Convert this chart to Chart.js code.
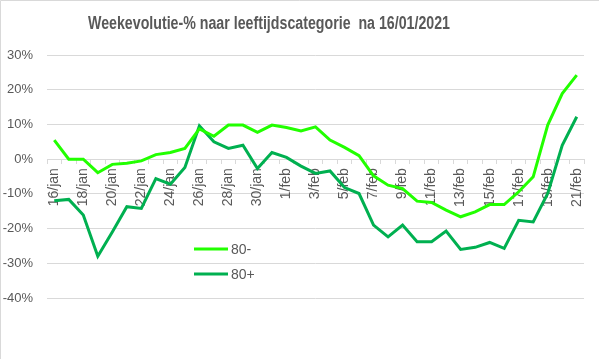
<!DOCTYPE html>
<html>
<head>
<meta charset="utf-8">
<script src="https://cdn.jsdelivr.net/npm/chart.js@4.4.1/dist/chart.umd.min.js"></script>
<style>
html,body{margin:0;padding:0;background:#fff;}
#wrap{width:599px;height:359px;position:relative;}
</style>
</head>
<body>
<div id="wrap"><canvas id="c" width="599" height="359"></canvas></div>
<script>
const titleText = 'Weekevolutie-% naar leeftijdscategorie  na 16/01/2021';
const categories = ['16/jan','17/jan','18/jan','19/jan','20/jan','21/jan','22/jan','23/jan','24/jan','25/jan','26/jan','27/jan','28/jan','29/jan','30/jan','31/jan',
  '1/feb','2/feb','3/feb','4/feb','5/feb','6/feb','7/feb','8/feb','9/feb','10/feb','11/feb','12/feb','13/feb','14/feb','15/feb','16/feb','17/feb','18/feb','19/feb','20/feb','21/feb'];
const seriesNames = ['80-','80+'];
const under80 = [5.5, 0, 0, -3.9, -1.5, -1.2, -0.5, 1.3, 1.9, 3.1, 8.7, 6.6, 9.8, 9.8, 7.7, 9.8,
  9.1, 8.1, 9.3, 5.5, 3.4, 1.0, -4.8, -7.5, -8.5, -12.1, -12.5, -14.7, -16.6, -15.2, -13.1, -13.1, -9.4, -5.1, 9.8, 18.9, 24.2];
const over80 = [-12, -11.6, -16.1, -28, -21, -13.7, -14.2, -5.6, -7.2, -2.4, 9.6, 5, 3.1, 4, -2.7, 1.9,
  0.5, -2, -4.1, -3.4, -8.2, -9.9, -19, -22.4, -19, -23.8, -23.8, -20.7, -26, -25.4, -24, -25.7, -17.6, -18.1, -9.9, 4, 12.2];
const yTicks = [30, 20, 10, 0, -10, -20, -30, -40];

const grey = '#595959';
const gridCol = '#d9d9d9';

const decor = {
  id: 'decor',
  beforeDraw(chart) {
    const ctx = chart.ctx;
    ctx.save();
    ctx.fillStyle = '#fff';
    ctx.fillRect(0, 0, chart.width, chart.height);
    ctx.strokeStyle = gridCol;
    ctx.lineWidth = 1;
    ctx.beginPath();
    ctx.moveTo(0.5, chart.height); ctx.lineTo(0.5, 0.5); ctx.lineTo(chart.width, 0.5);
    ctx.stroke();
    ctx.restore();
  },
  afterDraw(chart) {
    const ctx = chart.ctx;
    ctx.save();
    ctx.fillStyle = grey;
    ctx.font = 'bold 18px "Liberation Sans Narrow", "Liberation Sans", Arial, sans-serif';
    ctx.textAlign = 'center';
    ctx.textBaseline = 'middle';
    ctx.fillText(titleText, 269, 24, 362);
    // legend
    ctx.font = '14px "Liberation Sans", Arial, sans-serif';
    ctx.textAlign = 'left';
    chart.data.datasets.forEach((ds, i) => {
      const y = 249 + i * 25;
      ctx.strokeStyle = ds.borderColor;
      ctx.lineWidth = 3;
      ctx.beginPath();
      ctx.moveTo(194, y); ctx.lineTo(228, y);
      ctx.stroke();
      ctx.fillStyle = grey;
      ctx.fillText(ds.label, 231, y + 1);
    });
    ctx.restore();
  }
};

new Chart(document.getElementById('c'), {
  type: 'line',
  data: {
    labels: categories,
    datasets: [
      { label: seriesNames[0], data: under80, borderColor: '#22ff00', backgroundColor: '#22ff00', borderWidth: 3, pointRadius: 0, tension: 0 },
      { label: seriesNames[1], data: over80, borderColor: '#00b050', backgroundColor: '#00b050', borderWidth: 3, pointRadius: 0, tension: 0 }
    ]
  },
  options: {
    responsive: false,
    animation: false,
    layout: { padding: { left: 0, right: 15, top: 55, bottom: 61 } },
    plugins: { legend: { display: false }, title: { display: false }, tooltip: { enabled: false } },
    scales: {
      x: {
        type: 'category',
        position: { y: 0 },
        offset: true,
        grid: { offset: true, drawOnChartArea: false, drawTicks: true, tickLength: 4, color: gridCol },
        border: { color: gridCol, width: 1 },
        ticks: {
          autoSkip: false, maxRotation: 90, minRotation: 90, padding: 5,
          color: grey, font: { family: '"Liberation Sans", Arial, sans-serif', size: 14 },
          callback: (v, i) => (i % 2 === 0 ? categories[i] : '')
        }
      },
      y: {
        min: -40, max: 30,
        afterFit: s => { s.width = 47; },
        afterBuildTicks: s => { s.ticks = yTicks.map(v => ({ value: v })); },
        grid: { color: gridCol, drawTicks: false },
        border: { display: false },
        ticks: {
          padding: 14, color: grey,
          font: { family: '"Liberation Sans", Arial, sans-serif', size: 13 },
          callback: v => v + '%'
        }
      }
    }
  },
  plugins: [decor]
});
</script>
</body>
</html>
